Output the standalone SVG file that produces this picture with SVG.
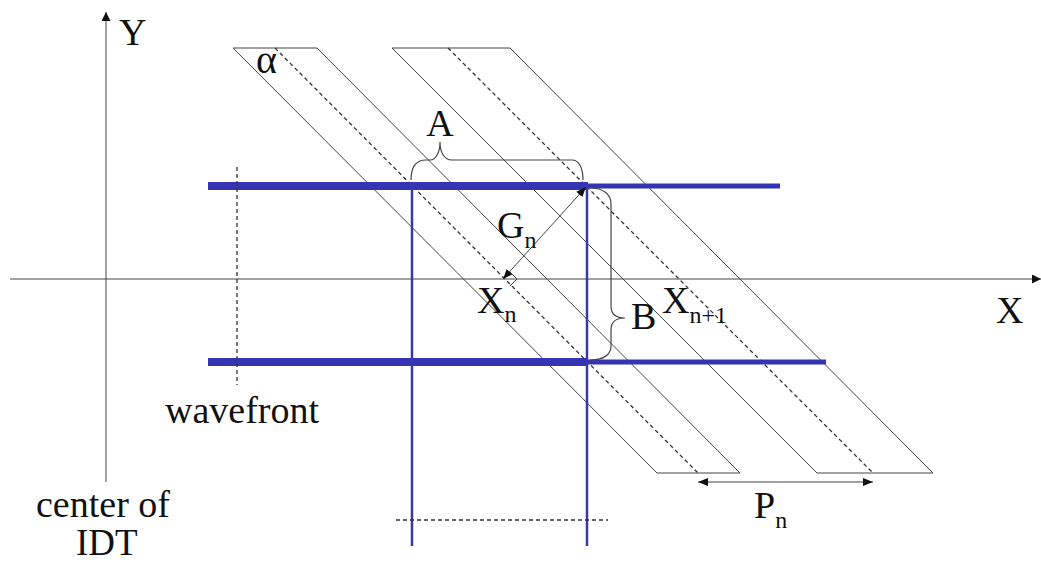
<svg xmlns="http://www.w3.org/2000/svg" width="1041" height="564" viewBox="0 0 1041 564">
<defs>
<marker id="ah" viewBox="0 0 10 10" refX="10" refY="5" markerWidth="10" markerHeight="10" markerUnits="userSpaceOnUse" orient="auto-start-reverse">
<path d="M0,1 L10,5 L0,9 Z" fill="#111"/>
</marker>
<marker id="ax" viewBox="0 0 10 10" refX="10" refY="5" markerWidth="12" markerHeight="9" markerUnits="userSpaceOnUse" orient="auto">
<path d="M0,0 L10,5 L0,10 Z" fill="#111"/>
</marker>
<style>
.thin{stroke:#444;stroke-width:1;fill:none}
.dash{stroke:#333;stroke-width:1.3;stroke-dasharray:4 3;fill:none}
.blue{stroke:#3434b4;fill:none}
.vblue{stroke:#3a3aa6;stroke-width:2.5;fill:none}
.brace{stroke:#444;stroke-width:1.2;fill:none}
.big{font-size:38px}
.sub{font-size:24px}
</style>
</defs>
<g id="axes">
<line class="thin" x1="106" y1="482" x2="106" y2="12" marker-end="url(#ax)" stroke="#222" stroke-width="1.5"/>
<line class="thin" x1="10" y1="279" x2="1041" y2="279" marker-end="url(#ax)" stroke="#222" stroke-width="1.5"/>
</g>
<g id="electrode1">
<polygon class="thin" points="233,48 317,48 740,473 657,473"/>
<line class="dash" x1="275" y1="48" x2="698" y2="473"/>
</g>
<g id="electrode2">
<polygon class="thin" points="392,48 510,48 933,473 817,473"/>
<line class="dash" x1="448" y1="48" x2="873" y2="473"/>
</g>
<g id="beam">
<line class="blue" x1="208" y1="186" x2="588" y2="186" stroke-width="8"/>
<line class="blue" x1="586" y1="186" x2="780" y2="186" stroke-width="5"/>
<line class="blue" x1="208" y1="362" x2="588" y2="362" stroke-width="8"/>
<line class="blue" x1="586" y1="362" x2="826" y2="362" stroke-width="5"/>
<line class="vblue" x1="412" y1="182" x2="412" y2="546"/>
<line class="vblue" x1="587" y1="186" x2="587" y2="546"/>
<line class="dash" x1="237" y1="167" x2="237" y2="385"/>
<line class="dash" x1="396" y1="520" x2="608" y2="520"/>
</g>
<g id="connectors">
<line class="thin" x1="503" y1="279" x2="586" y2="187" stroke="#111" stroke-width="1.3" marker-start="url(#ah)" marker-end="url(#ah)"/>
<polyline class="thin" points="510,272 517,279 510,286" stroke="#333"/>
<line class="thin" x1="698" y1="482" x2="873" y2="482" stroke="#111" stroke-width="1.5" marker-start="url(#ah)" marker-end="url(#ah)"/>
<path class="brace" d="M411,180 C411,168 415,160 426,160 L430,160 C436,160 440,152 440,142 C440,152 444,160 452,160 L572,160 C579,160 583,168 583,180"/>
<path class="brace" d="M590,188 C603,188 611,194 611,204 L611,306 C611,314 616,318 625,318 C616,318 611,322 611,330 L611,346 C611,355 603,360 590,360"/>
</g>
<g id="labels" font-family="'Liberation Serif', 'Times New Roman', serif" fill="#111">
<text class="big" x="119" y="45">Y</text>
<text x="256" y="73" font-size="40">α</text>
<text class="big" x="440" y="136" text-anchor="middle">A</text>
<text class="big" x="497" y="238">G<tspan class="sub" dy="10">n</tspan></text>
<text class="big" x="477" y="313">X<tspan class="sub" dy="9">n</tspan></text>
<text class="big" x="662" y="313">X<tspan class="sub" dy="10">n+1</tspan></text>
<text class="big" x="631" y="329">B</text>
<text class="big" x="996" y="323">X</text>
<text class="big" x="754" y="518">P<tspan class="sub" dy="10">n</tspan></text>
<text class="big" x="165" y="423">wavefront</text>
<text class="big" x="36" y="517">center of</text>
<text x="76" y="555" font-size="37">IDT</text>
</g>
</svg>
